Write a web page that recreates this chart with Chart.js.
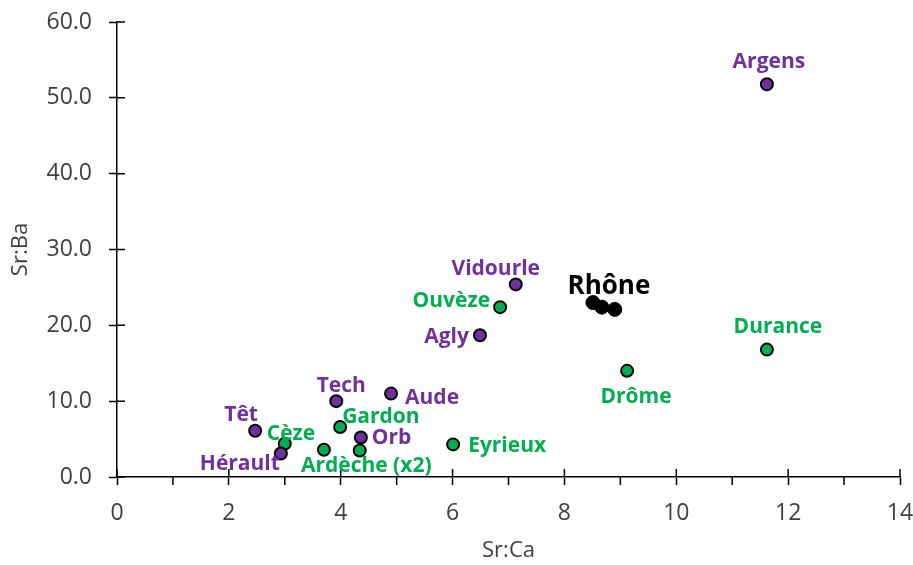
<!DOCTYPE html>
<html lang="fr">
<head>
    <meta charset="UTF-8">
    <title>Sr:Ca vs Sr:Ba</title>
    <style>
        body { margin: 0; background: #fff; }
        #wrap { width: 913px; height: 565px; }
    </style>
</head>
<body>
    <div id="wrap">
        <canvas id="myChart" width="913" height="565"></canvas>
    </div>

    <script src="https://cdn.jsdelivr.net/npm/chart.js"></script>
    <script>
        // bassins "violets"
        const purpleNames = ['Argens', 'Vidourle', 'Agly', 'Aude', 'Tech', 'Têt', 'Orb', 'Hérault'];
        const purpleSrCa  = [11.62, 7.13, 6.49, 4.90, 3.92, 2.47, 4.36, 2.93];
        const purpleSrBa  = [51.8, 25.4, 18.7, 11.0, 10.0, 6.1, 5.2, 3.1];

        // bassins "verts" (Ardèche : deux échantillons, une seule étiquette)
        const greenNames = ['Durance', 'Ouvèze', 'Drôme', 'Gardon', 'Cèze', 'Ardèche (x2)', '', 'Eyrieux'];
        const greenSrCa  = [11.62, 6.85, 9.12, 3.99, 3.00, 3.70, 4.34, 6.01];
        const greenSrBa  = [16.8, 22.4, 14.0, 6.6, 4.4, 3.6, 3.5, 4.3];

        // Rhône
        const rhoneNames = ['', 'Rhône', ''];
        const rhoneSrCa  = [8.51, 8.67, 8.90];
        const rhoneSrBa  = [23.0, 22.4, 22.1];

        const xTicks = [0, 2, 4, 6, 8, 10, 12, 14];
        const yTicks = [0, 10, 20, 30, 40, 50, 60];

        const PURPLE = '#7030A0';
        const GREEN = '#00B050';
        const FONT = '"Open Sans", sans-serif';

        // placement des étiquettes : [dx, dy, align]
        const purpleLabelPos = [[2, -24, 'center'], [-20, -17, 'center'], [-11, 0, 'right'], [14, 2, 'left'],
                                [5, -17, 'center'], [-14, -18, 'center'], [11, -2, 'left'], [-1, 9, 'right']];
        const greenLabelPos = [[11, -25, 'center'], [-10, -8, 'right'], [9, 24, 'center'], [2, -12, 'left'],
                               [-18, -12, 'left'], [-23, 14, 'left'], [0, 0, 'left'], [15, 0, 'left']];
        const rhoneLabelPos = [[0, 0, 'left'], [7, -23, 'center'], [0, 0, 'left']];

        function toPoints(xs, ys) {
            return xs.map((x, i) => ({ x: x, y: ys[i] }));
        }

        const datasets = [
            {
                label: 'violet',
                data: toPoints(purpleSrCa, purpleSrBa),
                names: purpleNames,
                labelPos: purpleLabelPos,
                labelColor: PURPLE,
                labelSize: 21,
                backgroundColor: PURPLE,
                borderColor: '#000',
                borderWidth: 2,
                pointRadius: 6,
            },
            {
                label: 'vert',
                data: toPoints(greenSrCa, greenSrBa),
                names: greenNames,
                labelPos: greenLabelPos,
                labelColor: GREEN,
                labelSize: 21,
                backgroundColor: GREEN,
                borderColor: '#000',
                borderWidth: 2,
                pointRadius: 6,
            },
            {
                label: 'Rhône',
                data: toPoints(rhoneSrCa, rhoneSrBa),
                names: rhoneNames,
                labelPos: rhoneLabelPos,
                labelColor: '#000',
                labelSize: 26,
                backgroundColor: '#000',
                borderColor: '#000',
                borderWidth: 1,
                pointRadius: 7,
            },
        ];

        // étiquettes des points
        const pointLabels = {
            id: 'pointLabels',
            afterDatasetsDraw(chart) {
                const ctx = chart.ctx;
                ctx.save();
                ctx.textBaseline = 'middle';
                chart.data.datasets.forEach((ds, di) => {
                    const meta = chart.getDatasetMeta(di);
                    ctx.fillStyle = ds.labelColor;
                    ctx.font = 'bold ' + ds.labelSize + 'px ' + FONT;
                    meta.data.forEach((pt, i) => {
                        const name = ds.names[i];
                        if (!name) return;
                        const p = ds.labelPos[i];
                        ctx.textAlign = p[2];
                        ctx.fillText(name, pt.x + p[0], pt.y + p[1] + 2);
                    });
                });
                ctx.restore();
            }
        };

        // graduations qui traversent l'axe + graduations mineures en x
        const axisTicks = {
            id: 'axisTicks',
            beforeDatasetsDraw(chart) {
                const ctx = chart.ctx;
                const xs = chart.scales.x, ys = chart.scales.y;
                const area = chart.chartArea;
                ctx.save();
                ctx.strokeStyle = '#000';
                ctx.lineWidth = 1.5;
                ctx.beginPath();
                xTicks.forEach(v => {
                    const px = xs.getPixelForValue(v);
                    ctx.moveTo(px, area.bottom);
                    ctx.lineTo(px, area.bottom - 8);
                });
                for (let v = 1; v < 14; v += 2) {
                    const px = xs.getPixelForValue(v);
                    ctx.moveTo(px, area.bottom);
                    ctx.lineTo(px, area.bottom + 8);
                }
                yTicks.forEach(v => {
                    const py = ys.getPixelForValue(v);
                    ctx.moveTo(area.left, py);
                    ctx.lineTo(area.left + 8, py);
                });
                ctx.stroke();
                ctx.restore();
            }
        };

        const tickFont = { family: FONT, size: 23 };
        const titleFont = { family: FONT, size: 22 };

        const chart = new Chart(document.getElementById('myChart'), {
            type: 'scatter',
            data: { datasets: datasets },
            options: {
                responsive: false,
                animation: false,
                events: [],
                layout: { padding: { top: 22, right: 13, left: 0, bottom: 0 } },
                plugins: {
                    legend: { display: false },
                    tooltip: { enabled: false },
                },
                scales: {
                    x: {
                        type: 'linear',
                        min: 0,
                        max: 14,
                        afterFit(scale) {
                            scale.height = 88;
                            scale.paddingLeft = 0;
                            scale.paddingRight = 0;
                        },
                        afterBuildTicks(scale) { scale.ticks = xTicks.map(v => ({ value: v })); },
                        border: { color: '#000', width: 1.5 },
                        grid: { drawOnChartArea: false, color: '#000', tickColor: '#000', tickLength: 8, tickWidth: 1.5 },
                        ticks: { font: tickFont, color: '#404040', padding: 15 },
                        title: { display: true, text: 'Sr:Ca', font: titleFont, color: '#404040', padding: { top: 0, bottom: 1 } },
                    },
                    y: {
                        type: 'linear',
                        min: 0,
                        max: 60,
                        afterFit(scale) {
                            scale.width = 117;
                            scale.paddingTop = 0;
                            scale.paddingBottom = 0;
                        },
                        afterBuildTicks(scale) { scale.ticks = yTicks.map(v => ({ value: v })); },
                        border: { color: '#000', width: 1.5 },
                        grid: { drawOnChartArea: false, color: '#000', tickColor: '#000', tickLength: 8, tickWidth: 1.5 },
                        ticks: { font: tickFont, color: '#404040', padding: 17, callback: v => v.toFixed(1) },
                        title: { display: true, text: 'Sr:Ba', font: titleFont, color: '#404040', padding: { top: 8, bottom: 0 } },
                    },
                },
            },
            plugins: [axisTicks, pointLabels],
        });
    </script>
</body>
</html>
